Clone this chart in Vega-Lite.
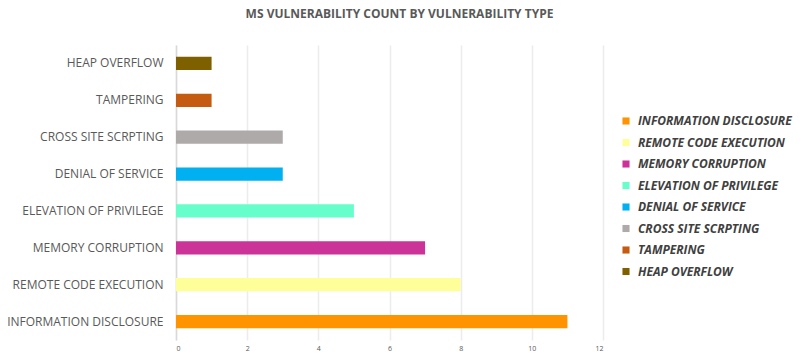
{
  "$schema": "https://vega.github.io/schema/vega-lite/v6.json",
  "width": 427,
  "height": 295,
  "autosize": {"type": "none"},
  "padding": {"left": 176, "top": 45, "right": 197, "bottom": 18},
  "background": "white",
  "title": {
    "text": "MS VULNERABILITY COUNT BY VULNERABILITY TYPE",
    "font": "Open Sans",
    "fontSize": 12,
    "fontWeight": "bold",
    "color": "#595959",
    "anchor": "middle",
    "dx": 10,
    "offset": 24
  },
  "data": {
    "values": [
      {"type": "INFORMATION DISCLOSURE", "count": 11},
      {"type": "REMOTE CODE EXECUTION", "count": 8},
      {"type": "MEMORY CORRUPTION", "count": 7},
      {"type": "ELEVATION OF PRIVILEGE", "count": 5},
      {"type": "DENIAL OF SERVICE", "count": 3},
      {"type": "CROSS SITE SCRPTING", "count": 3},
      {"type": "TAMPERING", "count": 1},
      {"type": "HEAP OVERFLOW", "count": 1}
    ]
  },
  "mark": {"type": "bar"},
  "encoding": {
    "y": {
      "field": "type",
      "type": "nominal",
      "sort": ["HEAP OVERFLOW", "TAMPERING", "CROSS SITE SCRPTING", "DENIAL OF SERVICE", "ELEVATION OF PRIVILEGE", "MEMORY CORRUPTION", "REMOTE CODE EXECUTION", "INFORMATION DISCLOSURE"],
      "scale": {"paddingInner": 0.64, "paddingOuter": 0.32},
      "axis": {
        "title": null,
        "ticks": false,
        "domain": true,
        "domainColor": "#d9d9d9",
        "domainWidth": 1.5,
        "labelFont": "Open Sans",
        "labelFontSize": 12,
        "labelColor": "#595959",
        "labelPadding": 13,
        "labelLimit": 300
      }
    },
    "x": {
      "field": "count",
      "type": "quantitative",
      "scale": {"domain": [0, 12], "nice": false},
      "axis": {
        "title": null,
        "values": [0, 2, 4, 6, 8, 10, 12],
        "grid": true,
        "gridColor": "#ececec",
        "gridWidth": 1.5,
        "domain": false,
        "ticks": false,
        "labelFont": "Open Sans",
        "labelFontSize": 7,
        "labelColor": "#595959",
        "labelPadding": 4
      }
    },
    "color": {
      "field": "type",
      "type": "nominal",
      "scale": {
        "domain": ["INFORMATION DISCLOSURE", "REMOTE CODE EXECUTION", "MEMORY CORRUPTION", "ELEVATION OF PRIVILEGE", "DENIAL OF SERVICE", "CROSS SITE SCRPTING", "TAMPERING", "HEAP OVERFLOW"],
        "range": ["#FF9300", "#FFFF99", "#CC3399", "#66FFCC", "#00B0F0", "#AEAAAA", "#C55A11", "#7F6000"]
      },
      "legend": {
        "title": null,
        "orient": "none",
        "legendX": 444,
        "legendY": 70,
        "padding": 0,
        "symbolType": "square",
        "symbolSize": 50,
        "symbolStrokeWidth": 0,
        "labelFont": "Open Sans",
        "labelFontSize": 12,
        "labelFontStyle": "italic",
        "labelFontWeight": "bold",
        "labelColor": "#404040",
        "labelOffset": 6,
        "rowPadding": 9.5,
        "labelLimit": 300
      }
    }
  },
  "config": {"view": {"stroke": null}}
}
